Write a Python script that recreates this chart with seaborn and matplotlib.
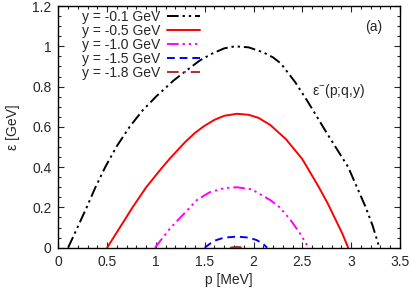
import numpy as np
import pandas as pd
import matplotlib
matplotlib.use('Agg')
import matplotlib.pyplot as plt
import seaborn as sns
from matplotlib.ticker import MultipleLocator

# values
p_01 = [0.10, 0.20, 0.29, 0.38, 0.48, 0.60, 0.73, 0.86, 1.00, 1.18, 1.30, 1.45, 1.58, 1.70, 1.81,
        1.95, 2.10, 2.20, 2.28, 2.43, 2.55, 2.65, 2.75, 2.86, 2.97, 3.06, 3.15, 3.22, 3.29]
e_01 = [0.00, 0.105, 0.20, 0.30, 0.40, 0.505, 0.60, 0.68, 0.75, 0.83, 0.875, 0.93, 0.965, 0.99, 1.00,
        0.995, 0.97, 0.945, 0.915, 0.82, 0.73, 0.65, 0.57, 0.485, 0.40, 0.30, 0.20, 0.11, 0.00]

p_05 = [0.50, 0.63, 0.76, 0.90, 1.05, 1.145, 1.30, 1.40, 1.49, 1.60, 1.70, 1.83, 1.95, 2.05,
        2.17, 2.33, 2.50, 2.67, 2.76, 2.84, 2.91, 2.97]
e_05 = [0.00, 0.10, 0.20, 0.30, 0.39, 0.444, 0.525, 0.57, 0.603, 0.635, 0.655, 0.665, 0.66, 0.645,
        0.61, 0.54, 0.44, 0.30, 0.22, 0.14, 0.07, 0.00]

p_10 = [0.99, 1.145, 1.30, 1.42, 1.55, 1.70, 1.83, 1.98, 2.17, 2.27, 2.38, 2.47, 2.565]
e_10 = [0.00, 0.096, 0.175, 0.237, 0.275, 0.296, 0.30, 0.29, 0.237, 0.20, 0.137, 0.075, 0.00]

p_15 = [1.50, 1.56, 1.62, 1.70, 1.83, 1.95, 2.03, 2.09, 2.14]
e_15 = [0.00, 0.022, 0.038, 0.050, 0.055, 0.050, 0.038, 0.022, 0.00]

p_18 = [1.76, 1.83, 1.90]
e_18 = [0.00, 0.004, 0.00]

labels = ['y = -0.1 GeV', 'y = -0.5 GeV', 'y = -1.0 GeV', 'y = -1.5 GeV', 'y = -1.8 GeV']

series = [(p_01, e_01), (p_05, e_05), (p_10, e_10), (p_15, e_15), (p_18, e_18)]
colors = ['black', '#ff0000', '#ff00ff', '#0000ff', '#b03030']
dashes = [(0, (6, 2, 1.2, 2, 1.2, 2)), '-', (0, (6, 2, 1.2, 2, 1.2, 2, 1.2, 2)),
          (0, (4, 2.5)), (0, (6, 2.5, 1.2, 2.5))]

sns.set_style('ticks')
plt.rcParams['font.family'] = ['Liberation Sans', 'DejaVu Sans']
plt.rcParams['mathtext.fontset'] = 'custom'
plt.rcParams['mathtext.rm'] = 'Liberation Sans'
plt.rcParams['mathtext.it'] = 'Liberation Sans'

fig = plt.figure(figsize=(4.11, 2.89), dpi=100)
ax = fig.add_axes([0.142, 0.143, 0.831, 0.836])

for (px, ex), lab, col, ls in zip(series, labels, colors, dashes):
    df = pd.DataFrame({'p': px, 'e': ex})
    sns.lineplot(data=df, x='p', y='e', ax=ax, color=col, linestyle=ls,
                 linewidth=1.4, label=lab, sort=False)

ax.set_xlim(0, 3.5)
ax.set_ylim(0, 1.2)
ax.xaxis.set_minor_locator(MultipleLocator(0.1))
ax.yaxis.set_minor_locator(MultipleLocator(0.05))
ax.set_xticks(np.arange(0, 3.51, 0.5))
ax.set_xticklabels(['0', '0.5', '1', '1.5', '2', '2.5', '3', '3.5'])
ax.set_yticks(np.arange(0, 1.21, 0.2))
ax.set_yticklabels(['0', '0.2', '0.4', '0.6', '0.8', '1', '1.2'])
ax.tick_params(which='both', direction='in', top=True, right=True, labelsize=10, width=0.8)
ax.tick_params(which='major', length=4.5, pad=5)
ax.tick_params(which='minor', length=2.5)
for s in ax.spines.values():
    s.set_linewidth(1.0)
    s.set_color('black')

ax.set_xlabel('p [MeV]', fontsize=10, labelpad=3)
ax.set_ylabel('\u03b5 [GeV]', fontsize=10, labelpad=9)

ax.text(3.23, 1.095, '(a)', fontsize=10, ha='center', va='center')
ax.text(2.6, 0.78, '\u03b5$^{-}$(p;q,y)', fontsize=10, ha='left', va='center')

ax.legend(loc='upper right', bbox_to_anchor=(0.44, 1.02), frameon=False,
          markerfirst=False, fontsize=10, handlelength=2.4, labelspacing=0.0,
          handletextpad=0.5, borderaxespad=0.2)

fig.savefig('out.png', dpi=100)
